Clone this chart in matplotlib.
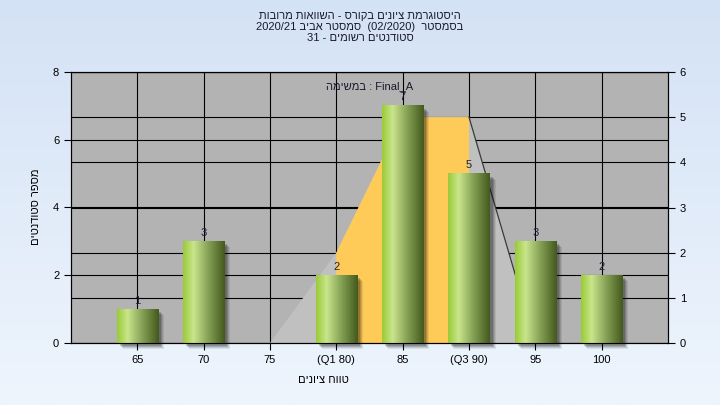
import re
import numpy as np
import matplotlib
matplotlib.use('Agg')
import matplotlib.pyplot as plt
from matplotlib import transforms
from matplotlib.colors import LinearSegmentedColormap
from matplotlib.patches import Polygon, Rectangle

plt.rcParams['font.family'] = ['Liberation Sans', 'DejaVu Sans']

# --- данные ---
categories = ['65', '70', '75', '(Q1 80)', '85', '(Q3 90)', '95', '100']
counts = [1, 3, 0, 2, 7, 5, 3, 2]

# контур "ящика" (правая ось)
curve_labels = ['75', '(Q1 80)', '85', '(Q3 90)', '95']
curve_vals = [0, 2, 5, 5, 0]
q1_label, q3_label = '(Q1 80)', '(Q3 90)'

title_lines = ['היסטוגרמת ציונים בקורס - השוואות מרובות',
               'בסמסטר  (02/2020)  סמסטר אביב 2020/21',
               'סטודנטים רשומים - 31']
note = 'Final_A : במשימה'
xlabel = 'טווח ציונים'
ylabel = 'מספר סטודנטים'


def rtl(s):
    # простая визуальная перестановка для RTL строки
    parts = re.findall(r'[0-9A-Za-z_/]+|[^0-9A-Za-z_/]+', s)
    out = []
    for p in reversed(parts):
        if re.match(r'[0-9A-Za-z]', p):
            out.append(p)
        else:
            out.append(p[::-1].translate(str.maketrans('()', ')(')))
    return ''.join(out)


fig = plt.figure(figsize=(7.2, 4.05), dpi=100)

# фон с градиентом
bg = fig.add_axes([0, 0, 1, 1], zorder=-10)
bg.imshow(np.linspace(0, 1, 256).reshape(-1, 1), aspect='auto', extent=[0, 1, 0, 1],
          cmap=LinearSegmentedColormap.from_list('bg', ['#d4e2f5', '#eef5fd']))
bg.axis('off')

ax = fig.add_axes([71 / 720, 1 - 343 / 405, 597 / 720, 271 / 405])
ax2 = ax.twinx()
ax.set_facecolor('#b3b3b3')
ax.set_axisbelow(True)

x = np.arange(len(categories))
ax.set_xticks(x, categories)
ax.set_yticks([0, 2, 4, 6, 8])
ax2.set_yticks(range(7))
ax.grid(True, color='black', lw=0.8)
for t in range(1, 7):
    ax.plot([-1, len(categories)], [t, t], transform=ax2.transData,
            color='black', lw=0.8, zorder=0.6)

# контур
cx = [categories.index(c) for c in curve_labels]
q1, q3 = categories.index(q1_label), categories.index(q3_label)
ax.add_patch(Polygon(list(zip(cx, curve_vals)), closed=True, transform=ax2.transData,
                     fc='#c0c0c0', ec='none', zorder=1))
box = [(a, b) for a, b in zip(cx, curve_vals) if q1 <= a <= q3] + [(q3, 0), (q1, 0)]
ax.add_patch(Polygon(box, closed=True, transform=ax2.transData,
                     fc='#ffcb58', ec='none', zorder=1.2))
k = cx.index(q3)
ax.plot(cx[k:], curve_vals[k:], transform=ax2.transData, color='#3a3a3a', lw=0.9, zorder=1.5)

# столбцы
bar_cmap = LinearSegmentedColormap.from_list(
    'bar', [(0, '#9acb35'), (0.25, '#c9e58c'), (0.6, '#86a256'), (1, '#44591c')])
grad = np.linspace(0, 1, 128).reshape(1, -1)
w = 0.62
for i, v in enumerate(counts):
    if v == 0:
        continue
    x0 = i - w / 2
    for off, a in [(6, 0.08), (5, 0.1), (4, 0.14), (3, 0.18)]:
        tr = transforms.offset_copy(ax.transData, fig=fig, x=off, y=-off, units='dots')
        ax.add_patch(Rectangle((x0, 0), w, v, transform=tr, fc='black', alpha=a,
                               lw=0, zorder=2.5, clip_on=False))
    ax.imshow(grad, extent=[x0, x0 + w, 0, v], aspect='auto', cmap=bar_cmap, zorder=3)
    ax.text(i, v + 0.1, str(v), ha='center', va='bottom', fontsize=8,
            color='#1f1f3a', zorder=4)

ax.set_xlim(-1, len(categories))
ax.set_ylim(0, 8)
ax2.set_ylim(0, 6)

for a in (ax, ax2):
    a.tick_params(direction='out', length=5, width=0.8, labelsize=8, colors='black')
    for s in a.spines.values():
        s.set_color('black')
        s.set_linewidth(0.8)

ax.text(0.5, 0.948, rtl(note), transform=ax.transAxes, ha='center', va='center',
        fontsize=8, color='#1a1a2e', zorder=5)

fig.text(0.5, 1 - 11 / 405, '\n'.join(rtl(t) for t in title_lines), ha='center', va='top',
         fontsize=8, linespacing=1.15, color='#1a1a2e')
fig.text(323 / 720, 1 - 380 / 405, rtl(xlabel), ha='center', va='center', fontsize=8)
fig.text(36 / 720, 1 - 207 / 405, rtl(ylabel), ha='center', va='center', fontsize=8,
         rotation=90)

fig.savefig('out.png', dpi=100)
